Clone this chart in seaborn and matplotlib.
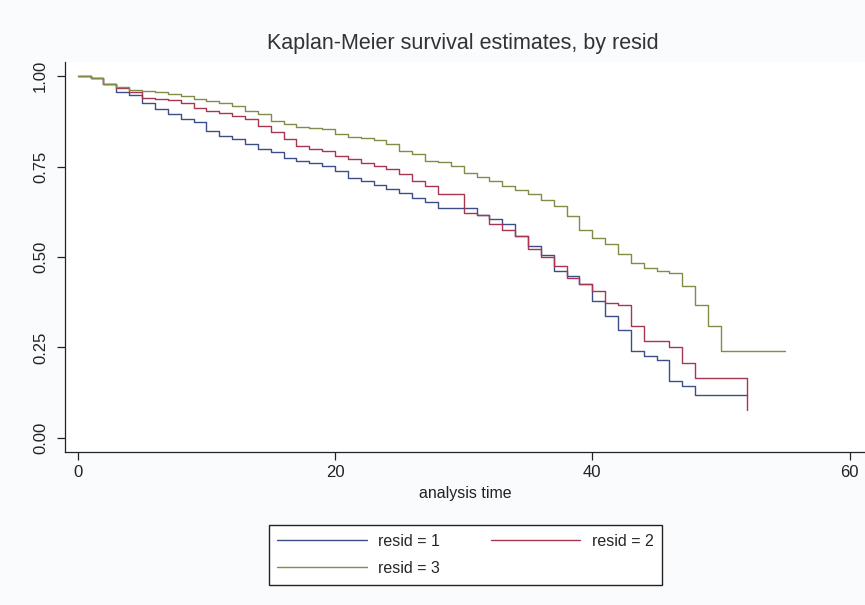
import pandas as pd
import matplotlib
matplotlib.use("Agg")
import matplotlib.pyplot as plt
import seaborn as sns

# survival estimates, one step per time unit
time_1 = list(range(0, 49)) + [52]
surv_1 = [1.000, 0.994, 0.978, 0.955, 0.947, 0.927, 0.910, 0.895, 0.881, 0.873,
          0.849, 0.835, 0.825, 0.812, 0.800, 0.789, 0.775, 0.766, 0.761, 0.752,
          0.738, 0.719, 0.710, 0.700, 0.687, 0.678, 0.664, 0.652, 0.636, 0.636,
          0.636, 0.615, 0.604, 0.590, 0.558, 0.530, 0.505, 0.461, 0.447, 0.424,
          0.378, 0.336, 0.299, 0.239, 0.225, 0.214, 0.156, 0.142, 0.119, 0.119]

time_2 = list(range(0, 49)) + [52]
surv_2 = [1.000, 0.994, 0.978, 0.966, 0.955, 0.941, 0.938, 0.934, 0.927, 0.913,
          0.904, 0.899, 0.890, 0.881, 0.862, 0.846, 0.825, 0.807, 0.798, 0.794,
          0.779, 0.770, 0.759, 0.752, 0.742, 0.729, 0.710, 0.696, 0.673, 0.673,
          0.622, 0.615, 0.590, 0.576, 0.558, 0.521, 0.500, 0.474, 0.443, 0.424,
          0.405, 0.374, 0.366, 0.308, 0.267, 0.267, 0.251, 0.207, 0.165, 0.078]

time_3 = list(range(0, 51)) + [55]
surv_3 = [1.000, 0.994, 0.978, 0.970, 0.961, 0.958, 0.955, 0.950, 0.945, 0.938,
          0.930, 0.925, 0.917, 0.904, 0.895, 0.876, 0.867, 0.859, 0.856, 0.853,
          0.839, 0.831, 0.828, 0.824, 0.812, 0.793, 0.784, 0.766, 0.762, 0.752,
          0.733, 0.722, 0.710, 0.696, 0.685, 0.673, 0.659, 0.640, 0.613, 0.576,
          0.553, 0.535, 0.507, 0.484, 0.470, 0.461, 0.457, 0.420, 0.368, 0.308,
          0.239, 0.239]

groups = ["resid = 1", "resid = 2", "resid = 3"]
colors = ["#3d4d87", "#a83650", "#7f8d48"]

df = pd.concat([
    pd.DataFrame({"time": time_1, "surv": surv_1, "group": groups[0]}),
    pd.DataFrame({"time": time_2, "surv": surv_2, "group": groups[1]}),
    pd.DataFrame({"time": time_3, "surv": surv_3, "group": groups[2]}),
])

sns.set_style("white")
plt.rcParams['font.family'] = ['Liberation Sans', 'DejaVu Sans']

fig = plt.figure(figsize=(8.65, 6.05), dpi=100, facecolor="#f9fbfc")
ax = fig.add_axes([0.075, 0.253, 0.925, 0.645])
ax.set_facecolor("white")

sns.lineplot(data=df, x="time", y="surv", hue="group", palette=dict(zip(groups, colors)),
             drawstyle="steps-post", linewidth=1.0, errorbar=None, ax=ax)

ax.set_xlim(-1, 61.2)
ax.set_ylim(-0.039, 1.04)
ax.set_xticks([0, 20, 40, 60])
ax.set_yticks([0, 0.25, 0.5, 0.75, 1.0])
ax.set_yticklabels(["0.00", "0.25", "0.50", "0.75", "1.00"], rotation=90, va="center")
ax.tick_params(axis="both", direction="out", length=6, width=0.9, colors="#222222",
               labelsize=12, left=True, bottom=True)
ax.tick_params(axis="y", pad=6)

for s in ["top", "right"]:
    ax.spines[s].set_visible(False)
for s in ["left", "bottom"]:
    ax.spines[s].set_color("#222222")
    ax.spines[s].set_linewidth(0.9)

ax.set_xlabel("analysis time", fontsize=11.5, color="#222222", labelpad=4)
ax.set_ylabel("")
fig.suptitle("Kaplan-Meier survival estimates, by resid", x=0.535, y=0.945,
             fontsize=15.5, color="#333333")

# row-major order: 1 and 2 on the top row, 3 below
h, l = ax.get_legend_handles_labels()
ax.legend([h[0], h[2], h[1]], [l[0], l[2], l[1]], ncol=2, loc="center",
          bbox_to_anchor=(0.538, 0.083), bbox_transform=fig.transFigure,
          fontsize=11.5, handlelength=5.6, columnspacing=3.2, handletextpad=0.7,
          frameon=True, fancybox=False, edgecolor="#222222", framealpha=1,
          borderpad=0.55, labelspacing=0.75)

plt.savefig("out.png", dpi=100, facecolor=fig.get_facecolor())
